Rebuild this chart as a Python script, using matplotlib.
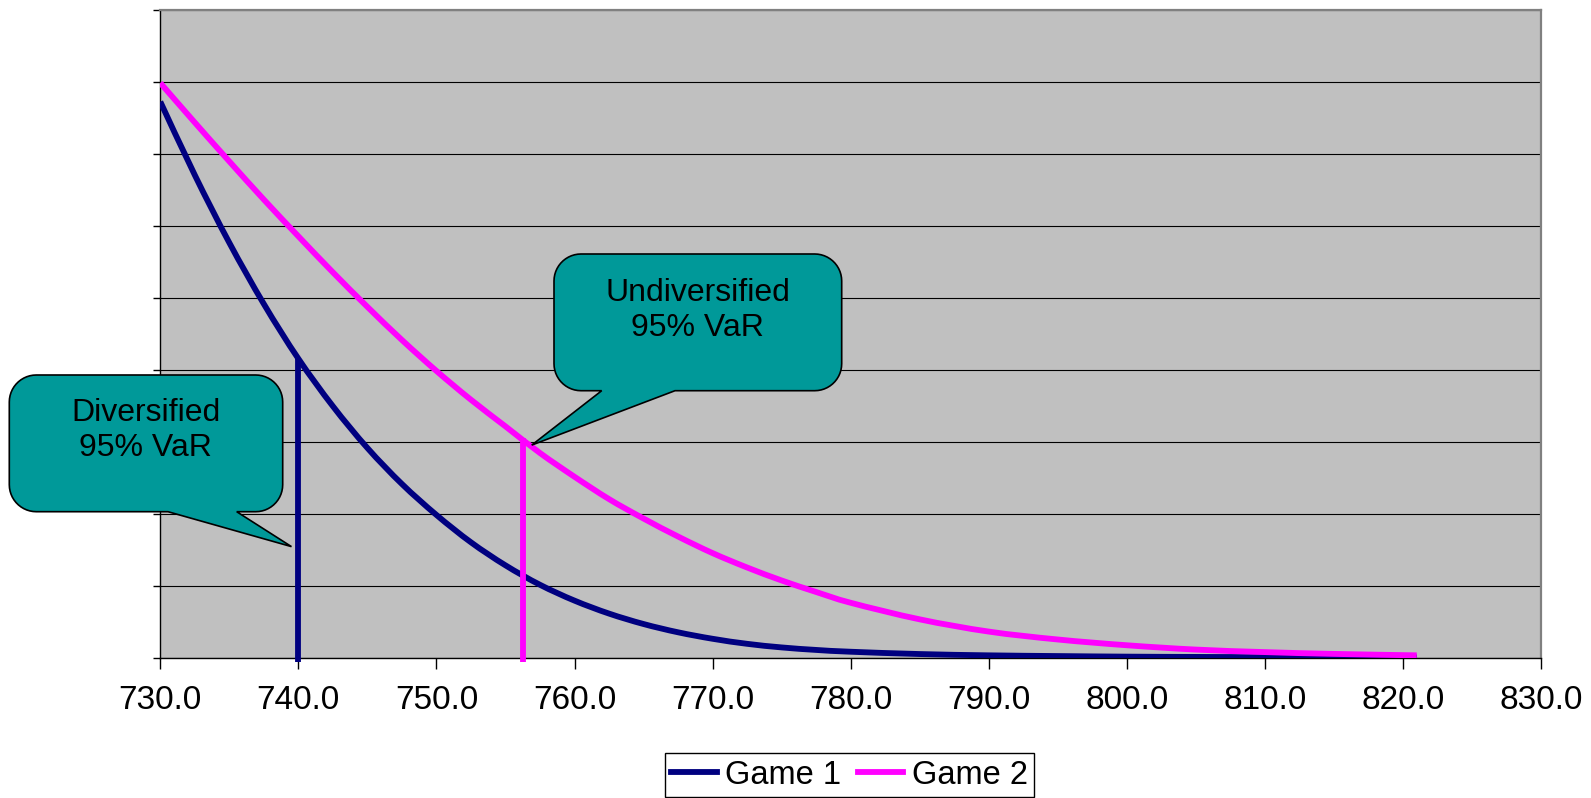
import matplotlib
matplotlib.use("Agg")
import matplotlib.pyplot as plt
import numpy as np
from matplotlib.lines import Line2D
from matplotlib.path import Path
from matplotlib.patches import PathPatch
from matplotlib.transforms import IdentityTransform

plt.rcParams["font.family"] = ["Liberation Sans", "DejaVu Sans"]

# Loss distribution tails for the two games
game1_x = [730, 732.5, 735, 737.5, 740, 742.5, 745, 747.5, 750, 752.5, 755, 757.5,
           760, 762.5, 765, 767.5, 770, 772.5, 775, 777.5, 780, 785, 790, 795,
           800, 805, 810, 815, 821]
game1_y = [7.72, 6.70, 5.76, 4.91, 4.15, 3.49, 2.91, 2.41, 1.98, 1.60, 1.28, 1.01,
           0.79, 0.61, 0.465, 0.35, 0.26, 0.19, 0.14, 0.105, 0.08, 0.048, 0.03, 0.02,
           0.012, 0.008, 0.005, 0.003, 0.002]
game2_x = game1_x
game2_y = [7.98, 7.43, 6.89, 6.36, 5.85, 5.35, 4.87, 4.41, 3.98, 3.58, 3.21, 2.84,
           2.51, 2.20, 1.93, 1.68, 1.45, 1.25, 1.07, 0.91, 0.76, 0.53, 0.36, 0.25,
           0.17, 0.11, 0.075, 0.05, 0.03]

# 95% VaR markers: position and the height where they meet the curve
var_div, var_div_h = 740.0, 4.15
var_undiv, var_undiv_h = 756.3, 3.05

x_ticks = [730, 740, 750, 760, 770, 780, 790, 800, 810, 820, 830]
y_ticks = list(range(10))

NAVY = "#000080"
MAGENTA = "#FF00FF"
TEAL = "#009999"
LW = 4.2

W, H = 1591, 798
fig = plt.figure(figsize=(W / 100, H / 100), dpi=100)
ax = fig.add_axes([160.3 / W, (H - 657.5) / H, (1541 - 160.3) / W, (657.5 - 9.5) / H])
ax.set_facecolor("#C0C0C0")


def smooth_path(xs, ys):
    """Catmull-Rom curve through the points, as cubic Bezier segments."""
    p = np.column_stack([xs, ys]).astype(float)
    ext = np.vstack([p[0], p, p[-1]])
    verts, codes = [tuple(p[0])], [Path.MOVETO]
    for i in range(1, len(ext) - 2):
        p0, p1, p2, p3 = ext[i - 1], ext[i], ext[i + 1], ext[i + 2]
        c1 = p1 + (p2 - p0) / 6
        c2 = p2 - (p3 - p1) / 6
        verts += [tuple(c1), tuple(c2), tuple(p2)]
        codes += [Path.CURVE4] * 3
    return Path(verts, codes)


for xs, ys, col in [(game1_x, game1_y, NAVY), (game2_x, game2_y, MAGENTA)]:
    ax.add_patch(PathPatch(smooth_path(xs, ys), fill=False, edgecolor=col, lw=LW,
                           joinstyle="round", capstyle="butt", zorder=3))
ax.vlines(var_div, -0.06, var_div_h, color=NAVY, lw=LW, clip_on=False, zorder=3)
ax.vlines(var_undiv, -0.06, var_undiv_h, color=MAGENTA, lw=LW, clip_on=False, zorder=3)

ax.set_xlim(730, 830)
ax.set_ylim(0, 9)
ax.set_xticks(x_ticks)
ax.set_xticklabels([f"{v:.1f}" for v in x_ticks])
ax.set_yticks(y_ticks)
ax.set_yticklabels([])
ax.yaxis.grid(True, color="black", lw=0.8)
ax.set_axisbelow(True)
ax.tick_params(axis="x", direction="out", length=8, width=1, labelsize=24, pad=12)
ax.tick_params(axis="y", direction="out", length=5, width=1)
for side in ("left", "bottom"):
    ax.spines[side].set_color("black")
    ax.spines[side].set_linewidth(1.0)
for side in ("top", "right"):
    ax.spines[side].set_color("#808080")
    ax.spines[side].set_linewidth(1.6)

handles = [Line2D([], [], color=NAVY, lw=LW), Line2D([], [], color=MAGENTA, lw=LW)]
fig.legend(handles, ["Game 1", "Game 2"], loc="center", bbox_to_anchor=(849.5 / W, 23 / H),
           ncol=2, fontsize=23.5, frameon=True, fancybox=False, edgecolor="black",
           framealpha=1, handlelength=1.4, handletextpad=0.25, columnspacing=0.5,
           borderpad=0.2, borderaxespad=0)


def callout(box, base, tip, text, text_xy):
    """Rounded speech bubble in figure pixels with a wedge tail ending at tip."""
    x0, y0, x1, y1 = box
    r = 27
    def arc(cx, cy, a0, a1):
        a = np.radians(np.linspace(a0, a1, 14))
        return list(zip(cx + r * np.cos(a), cy + r * np.sin(a)))
    pts = [(x0 + r, y1), (x1 - r, y1)]
    pts += arc(x1 - r, y1 - r, 90, 0)
    pts += [(x1, y0 + r)]
    pts += arc(x1 - r, y0 + r, 0, -90)
    pts += [(base[1], y0), tip, (base[0], y0), (x0 + r, y0)]
    pts += arc(x0 + r, y0 + r, -90, -180)
    pts += [(x0, y1 - r)]
    pts += arc(x0 + r, y1 - r, 180, 90)
    pts.append(pts[0])
    codes = [Path.MOVETO] + [Path.LINETO] * (len(pts) - 2) + [Path.CLOSEPOLY]
    patch = PathPatch(Path(pts, codes), transform=IdentityTransform(), facecolor=TEAL,
                      edgecolor="black", lw=1.2, zorder=5, clip_on=False)
    fig.add_artist(patch)
    fig.text(text_xy[0], text_xy[1], text, transform=IdentityTransform(), ha="center",
             va="center", fontsize=23, linespacing=1.22, zorder=6)


tip_div = ax.transData.transform((739.5, 1.54))
tip_undiv = ax.transData.transform((756.9, 2.95))
callout((9.3, H - 511.7, 282.7, H - 375), (168, 236.7), tuple(tip_div),
        "Diversified\n95% VaR", (145.7, H - 430.8))
callout((554, H - 390.7, 841.7, H - 254), (601.7, 675), tuple(tip_undiv),
        "Undiversified\n95% VaR", (697.7, H - 310.9))

fig.savefig("out.png", dpi=100)
